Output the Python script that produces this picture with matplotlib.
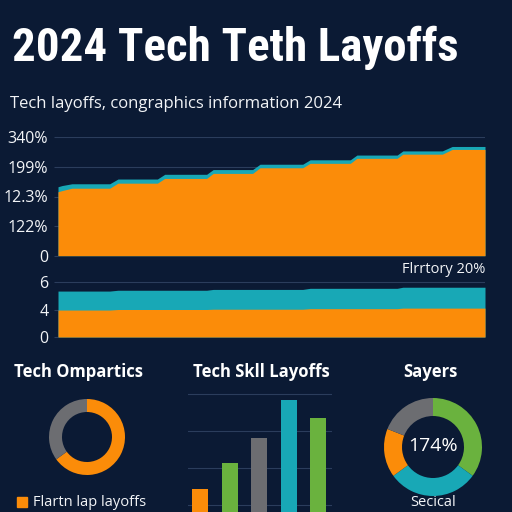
import matplotlib
matplotlib.use('Agg')
import matplotlib.pyplot as plt
from matplotlib import font_manager
from matplotlib.patches import Rectangle

BG = '#0b1a34'
ORANGE = '#fb8c09'
TEAL = '#18a8b6'
GREEN = '#6ab23e'
GRAY = '#6c6d71'
GRID = '#2b3d5c'
TXT = '#f2f4f7'

# top area chart (weeks of 2024, stacked)
top_weeks = [0, 0.5, 1.7, 6.3, 7.3, 12.1, 13.0, 18.1, 18.9, 23.7, 24.6,
             29.8, 30.7, 35.6, 36.4, 41.3, 42.0, 46.8, 48.0, 52]
top_orange = [2.16, 2.20, 2.28, 2.28, 2.45, 2.45, 2.61, 2.61, 2.78, 2.78, 2.97,
              2.97, 3.12, 3.12, 3.29, 3.29, 3.43, 3.43, 3.59, 3.59]
top_teal = [0.17, 0.17, 0.15, 0.15, 0.14, 0.14, 0.14, 0.14, 0.13, 0.13, 0.12,
            0.12, 0.12, 0.12, 0.11, 0.11, 0.11, 0.11, 0.10, 0.10]
top_ticklabels = ['0', '122%', '12.3%', '199%', '340%']

# bottom band chart
band_weeks = [0, 6.3, 7.3, 18.1, 18.9, 29.8, 30.7, 41.3, 42.0, 52]
band_orange = [0.98, 0.98, 1.00, 1.00, 1.01, 1.01, 1.03, 1.03, 1.05, 1.05]
band_teal = [0.69, 0.69, 0.70, 0.70, 0.72, 0.72, 0.74, 0.74, 0.76, 0.76]
band_ticklabels = ['0', '4', '6']

# middle bar chart
bar_values = [1.43, 2.14, 2.81, 3.84, 3.35]
bar_colors = [ORANGE, GREEN, GRAY, TEAL, GREEN]

# donuts
donut1_values = [65, 35]
donut1_colors = [ORANGE, GRAY]
donut2_values = [35, 30, 16, 19]
donut2_colors = [GREEN, TEAL, ORANGE, GRAY]

plt.rcParams['font.family'] = ['Open Sans', 'DejaVu Sans']

# narrowest bold family we can find for the headline
names = {f.name for f in font_manager.fontManager.ttflist}
title_font = 'DejaVu Sans'
for cand in ['Roboto Condensed', 'Liberation Sans Narrow', 'Open Sans Condensed',
             'Noto Sans Condensed', 'DejaVu Sans Condensed', 'Roboto']:
    if cand in names:
        title_font = cand
        break

fig = plt.figure(figsize=(5.12, 5.12), dpi=100, facecolor=BG)


def box(x0, y0, x1, y1):
    # pixel box (top-left origin) -> figure fraction rect
    return [x0 / 512, 1 - y1 / 512, (x1 - x0) / 512, (y1 - y0) / 512]


def style(ax):
    ax.set_facecolor('none')
    for s in ax.spines.values():
        s.set_visible(False)


title = fig.text(12 / 512, 1 - 48 / 512, '2024 Tech Teth Layoffs', color='white',
                 fontsize=37, fontweight='bold', va='center', ha='left',
                 family=[title_font, 'DejaVu Sans'], fontstretch='condensed')
# shrink headline until it fits the width it takes in the picture
r = fig.canvas.get_renderer()
w = title.get_window_extent(r).width
if w > 446:
    title.set_fontsize(37 * 446 / w)

fig.text(10 / 512, 1 - 104 / 512, 'Tech layoffs, congraphics information 2024',
         color=TXT, fontsize=12, va='center', ha='left')

# top area chart
ax1 = fig.add_axes(box(58, 137.3, 485, 255.7))
style(ax1)
top_total = [o + t for o, t in zip(top_orange, top_teal)]
ax1.fill_between(top_weeks, 0, top_total, color=TEAL, lw=0, zorder=2)
ax1.fill_between(top_weeks, 0, top_orange, color=ORANGE, lw=0, zorder=3)
ax1.set_xlim(0, 52)
ax1.set_ylim(0, 4)
ax1.set_yticks(range(5))
ax1.set_yticklabels(top_ticklabels)
ax1.set_xticks([])
ax1.grid(axis='y', color=GRID, lw=0.8, zorder=0)
ax1.tick_params(axis='y', colors=TXT, labelsize=11.5, length=3, width=0.8, pad=4)
ax1.tick_params(axis='y', color=GRID)

# bottom band chart
ax2 = fig.add_axes(box(58, 262, 485, 337))
style(ax2)
band_total = [o + t for o, t in zip(band_orange, band_teal)]
ax2.fill_between(band_weeks, 0, band_total, color=TEAL, lw=0, zorder=2)
ax2.fill_between(band_weeks, 0, band_orange, color=ORANGE, lw=0, zorder=3)
ax2.set_xlim(0, 52)
ax2.set_ylim(0, 75 / 27.5)
ax2.set_yticks(range(3))
ax2.set_yticklabels(band_ticklabels)
ax2.set_xticks([])
ax2.grid(axis='y', color=GRID, lw=0.8, zorder=0)
ax2.tick_params(axis='y', colors=TXT, labelsize=11.5, length=3, width=0.8, pad=4)
ax2.tick_params(axis='y', color=GRID)
ax2.text(1.0, 0.9, 'Flrrtory 20%', transform=ax2.transAxes, ha='right', va='center',
         color=TXT, fontsize=10.5)

# section titles
for x, label in [(79, 'Tech Ompartics'), (261, 'Tech Skll Layoffs'), (430, 'Sayers')]:
    fig.text(x / 512, 1 - 372 / 512, label, color='white', fontsize=12,
             fontweight='bold', ha='center', va='center')

# donut 1
r1 = 38
ax3 = fig.add_axes(box(87 - r1, 437 - r1, 87 + r1, 437 + r1))
ax3.pie(donut1_values, colors=donut1_colors, startangle=90, counterclock=False,
        radius=1, wedgeprops=dict(width=13 / 38, lw=0))
ax3.set_xlim(-1, 1)
ax3.set_ylim(-1, 1)
ax3.axis('off')
fig.add_artist(Rectangle((17 / 512, 1 - 507 / 512), 10 / 512, 10 / 512,
                         transform=fig.transFigure, color=ORANGE))
fig.text(33 / 512, 1 - 502 / 512, 'Flartn lap layoffs', color=TXT, fontsize=10.5,
         ha='left', va='center')

# bar chart
ax4 = fig.add_axes(box(188, 390.3, 332, 542))
style(ax4)
ax4.bar(range(len(bar_values)), bar_values, width=0.54, color=bar_colors, zorder=3)
ax4.set_xlim(-0.405, 4.46)
ax4.set_ylim(0, 4.1)
ax4.set_yticks([1, 2, 3, 4])
ax4.set_xticks([])
ax4.tick_params(axis='y', length=0, labelleft=False)
ax4.grid(axis='y', color=GRID, lw=0.8, zorder=0)

# donut 2
r2 = 49
ax5 = fig.add_axes(box(433 - r2, 447 - r2, 433 + r2, 447 + r2))
ax5.pie(donut2_values, colors=donut2_colors, startangle=90, counterclock=False,
        radius=1, wedgeprops=dict(width=18 / 49, lw=0))
ax5.set_xlim(-1, 1)
ax5.set_ylim(-1, 1)
ax5.axis('off')
ax5.text(0, 0.02, '174%', ha='center', va='center', color='white', fontsize=14)
fig.text(433 / 512, 1 - 503 / 512, 'Secical', color=TXT, fontsize=10.5,
         ha='center', va='center')

fig.savefig('out.png', dpi=100, facecolor=BG)
